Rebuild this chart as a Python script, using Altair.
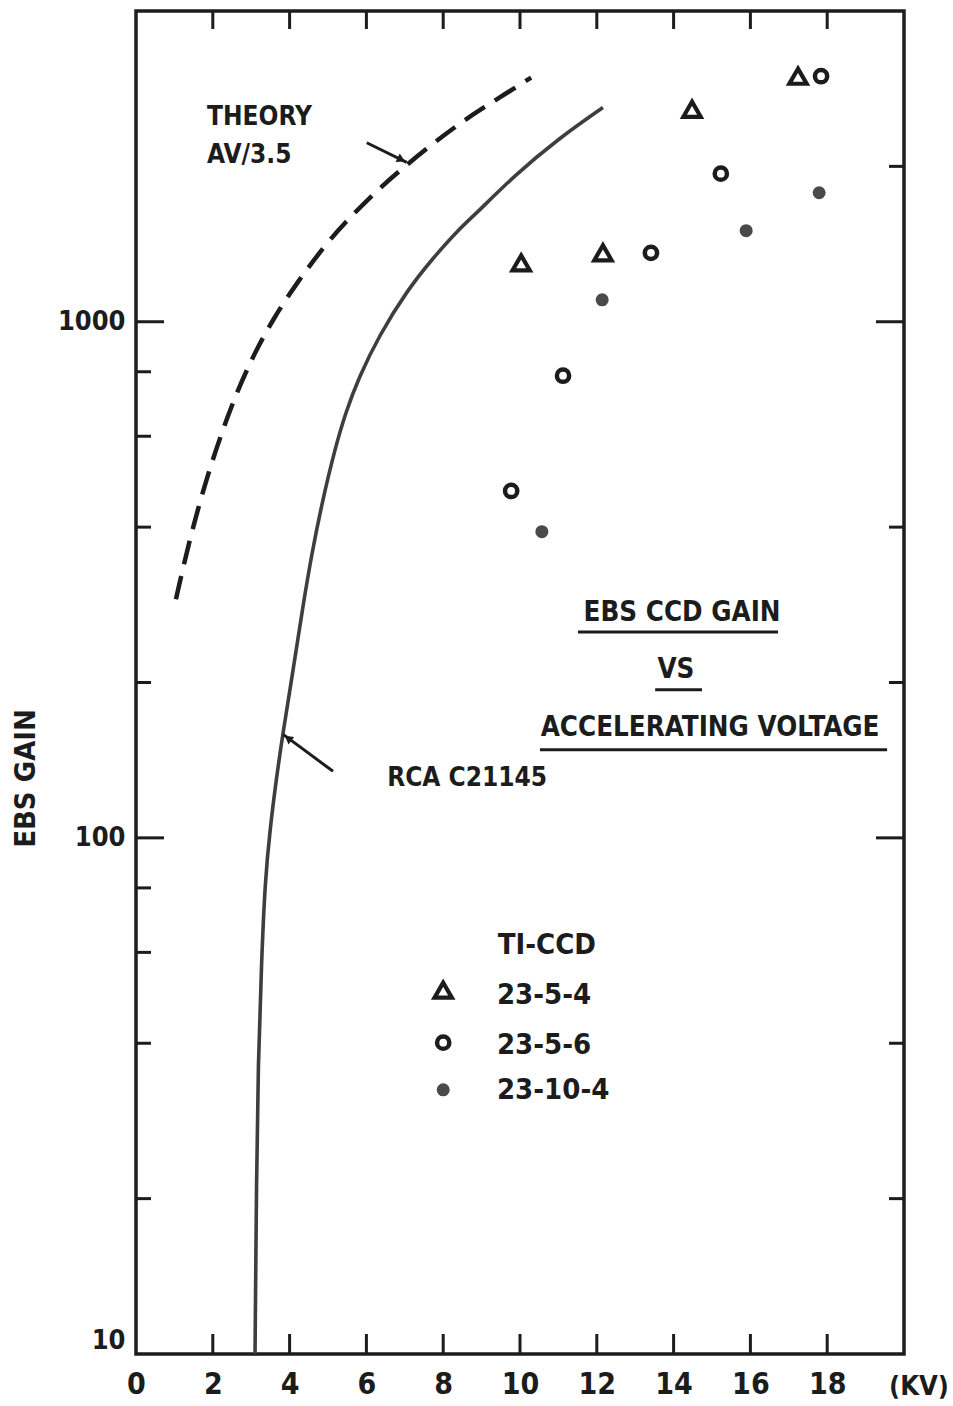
import altair as alt
import pandas as pd

FONT = "Liberation Sans Narrow, DejaVu Sans Condensed, Roboto, Liberation Sans, sans-serif"
INK = "#1c1c1c"
GRAY = "#3e3e3e"
W, H = 768, 1343

# ---- data ----
rca_kv = [3.10, 3.14, 3.18, 3.27, 3.36, 3.49, 3.66, 3.82, 4.09, 4.34, 4.57, 4.85,
          5.18, 5.46, 5.80, 6.33, 7.07, 7.74, 8.39, 8.88, 9.82, 11.04, 12.16]
rca_gain = [10, 22.6, 36.1, 57.8, 82.2, 104, 131, 158.5, 211, 279, 353, 448,
            567, 667, 779, 940, 1153, 1330, 1507, 1626, 1910, 2275, 2600]

theory_kv = [1.04, 1.41, 1.85, 2.25, 2.63, 3.09, 3.59, 4.19, 4.89, 5.45, 6.19,
             6.80, 7.69, 8.39, 8.89, 9.46, 10.29]
theory_gain = [290, 383, 501, 615, 732, 871, 1018, 1190, 1397, 1559, 1771,
               1944, 2203, 2410, 2553, 2717, 2972]

tri_kv = [10.03, 12.16, 14.48, 17.24]          # 23-5-4
tri_gain = [1300, 1360, 2580, 2990]
circ_kv = [9.77, 11.12, 13.41, 15.23, 17.84]   # 23-5-6
circ_gain = [470, 786, 1360, 1936, 2990]
dot_kv = [10.57, 12.14, 15.89, 17.79]          # 23-10-4
dot_gain = [392, 1103, 1501, 1778]

x_ticks = [0, 2, 4, 6, 8, 10, 12, 14, 16, 18]
y_labels = [10, 100, 1000]
left_major = [100, 1000]
left_minor = [20, 40, 60, 80, 200, 400, 600, 800]
right_major = [100, 1000]
right_minor = [20, 40, 200, 400, 2000]

xs = alt.Scale(domain=[0, 20], nice=False, zero=False)
ys = alt.Scale(type="log", domain=[10, 4000], nice=False)

xaxis = alt.Axis(values=x_ticks, title=None, ticks=False, domain=False, grid=False,
                 labelFont=FONT, labelFontSize=30, labelFontWeight="bold",
                 labelColor=INK, labelPadding=15, labelFlush=False)
yaxis = alt.Axis(values=y_labels, format="d", ticks=False, domain=False, grid=False,
                 labelFont=FONT, labelFontSize=27, labelFontWeight="bold",
                 labelColor=INK, labelPadding=11, labelFlush=True,
                 title="EBS GAIN", titleFont=FONT, titleFontSize=29,
                 titleFontWeight="bold", titleColor=INK, titleAngle=270,
                 titleX=-111, titleY=767, titleAlign="center", titleBaseline="middle")


def X(f="kv"):
    return alt.X(f"{f}:Q", scale=xs, axis=xaxis)


def Y(f="gain"):
    return alt.Y(f"{f}:Q", scale=ys, axis=yaxis)


rca = pd.DataFrame({"kv": rca_kv, "gain": rca_gain})
theory = pd.DataFrame({"kv": theory_kv, "gain": theory_gain})
tri = pd.DataFrame({"kv": tri_kv, "gain": tri_gain})
circ = pd.DataFrame({"kv": circ_kv, "gain": circ_gain})
dot = pd.DataFrame({"kv": dot_kv, "gain": dot_gain})

layers = []

layers.append(alt.Chart(rca).mark_line(color=GRAY, strokeWidth=3.6, interpolate="basis")
              .encode(x=X(), y=Y()))
layers.append(alt.Chart(theory).mark_line(color=INK, strokeWidth=4.5, strokeDash=[24, 12],
                                          interpolate="basis")
              .encode(x=X(), y=Y()))

tri_style = dict(shape="triangle-up", filled=False, stroke=INK, strokeWidth=4.2, size=300, opacity=1)
circ_style = dict(shape="circle", filled=False, stroke=INK, strokeWidth=4.5, size=150, opacity=1)
dot_style = dict(shape="circle", filled=True, fill="#4a4a4a", strokeWidth=0, size=170, opacity=1)

layers.append(alt.Chart(tri).mark_point(**tri_style).encode(x=X(), y=Y()))
layers.append(alt.Chart(circ).mark_point(**circ_style).encode(x=X(), y=Y()))
layers.append(alt.Chart(dot).mark_point(**dot_style).encode(x=X(), y=Y()))

# ---- inward frame ticks ----
frame_rule = dict(color=INK, strokeWidth=3)
for vals, ln in ((left_major, 28), (left_minor, 15)):
    layers.append(alt.Chart(pd.DataFrame({"gain": vals})).mark_rule(**frame_rule)
                  .encode(y=Y(), x=alt.value(0), x2=alt.value(ln)))
for vals, ln in ((right_major, 28), (right_minor, 15)):
    layers.append(alt.Chart(pd.DataFrame({"gain": vals})).mark_rule(**frame_rule)
                  .encode(y=Y(), x=alt.value(W), x2=alt.value(W - ln)))
tick_df = pd.DataFrame({"kv": x_ticks[1:]})
layers.append(alt.Chart(tick_df).mark_rule(**frame_rule)
              .encode(x=X(), y=alt.value(H), y2=alt.value(H - 20)))
layers.append(alt.Chart(tick_df).mark_rule(**frame_rule)
              .encode(x=X(), y=alt.value(0), y2=alt.value(18)))

# ---- annotations ----
txt = dict(font=FONT, fontWeight="bold", color=INK, baseline="middle")
left_txt = pd.DataFrame({
    "kv": [1.85, 1.85],
    "gain": [2496, 2107],
    "label": ["THEORY", "AV/3.5"],
})
layers.append(alt.Chart(left_txt).mark_text(align="left", fontSize=26, **txt)
              .encode(x=X(), y=Y(), text="label:N"))
rca_txt = pd.DataFrame({"kv": [6.54], "gain": [130.7], "label": ["RCA C21145"]})
layers.append(alt.Chart(rca_txt).mark_text(align="left", fontSize=26, **txt)
              .encode(x=X(), y=Y(), text="label:N"))

title_txt = pd.DataFrame({
    "kv": [14.22, 14.06, 14.95],
    "gain": [273, 211.7, 163.4],
    "label": ["EBS CCD GAIN", "VS", "ACCELERATING VOLTAGE"],
})
layers.append(alt.Chart(title_txt).mark_text(align="center", fontSize=27.5, **txt)
              .encode(x=X(), y=Y(), text="label:N"))

underline = pd.DataFrame({
    "kv": [11.51, 13.52, 10.52],
    "kv2": [16.72, 14.74, 19.56],
    "gain": [250.6, 193.7, 148.1],
})
layers.append(alt.Chart(underline).mark_rule(color=INK, strokeWidth=3)
              .encode(x=X(), x2="kv2:Q", y=Y()))

arrows = pd.DataFrame({
    "kv": [6.01, 5.13], "gain": [2222, 134.6],
    "kv2": [7.05, 3.84], "gain2": [2036, 158.5],
})
layers.append(alt.Chart(arrows).mark_rule(color=INK, strokeWidth=3)
              .encode(x=X(), y=Y(), x2="kv2:Q", y2="gain2:Q"))
heads = pd.DataFrame({"kv": [6.91, 3.96], "gain": [2061, 156], "ang": [116, 307]})
layers.append(alt.Chart(heads).mark_point(shape="triangle-up", filled=True, fill=INK,
                                          size=90, opacity=1)
              .encode(x=X(), y=Y(), angle=alt.Angle("ang:Q", scale=None)))

unit = pd.DataFrame({"kv": [20.39], "gain": [8.63], "label": ["(KV)"]})
layers.append(alt.Chart(unit).mark_text(align="center", fontSize=27, **txt)
              .encode(x=X(), y=Y(), text="label:N"))

# ---- legend (TI-CCD) ----
leg_title = pd.DataFrame({"kv": [10.70], "gain": [62.1], "label": ["TI-CCD"]})
layers.append(alt.Chart(leg_title).mark_text(align="center", fontSize=29, **txt)
              .encode(x=X(), y=Y(), text="label:N"))
leg_labels = pd.DataFrame({"kv": [9.40, 9.40, 9.40], "gain": [49.7, 39.7, 32.5],
                           "label": ["23-5-4", "23-5-6", "23-10-4"]})
layers.append(alt.Chart(leg_labels).mark_text(align="left", fontSize=29, **txt)
              .encode(x=X(), y=Y(), text="label:N"))
layers.append(alt.Chart(pd.DataFrame({"kv": [8.0], "gain": [50.7]}))
              .mark_point(**tri_style).encode(x=X(), y=Y()))
layers.append(alt.Chart(pd.DataFrame({"kv": [8.0], "gain": [40.1]}))
              .mark_point(**circ_style).encode(x=X(), y=Y()))
layers.append(alt.Chart(pd.DataFrame({"kv": [8.0], "gain": [32.5]}))
              .mark_point(**dot_style).encode(x=X(), y=Y()))

chart = (alt.layer(*layers)
         .properties(width=W, height=H,
                     autosize=alt.AutoSizeParams(type="none"),
                     padding={"left": 136, "top": 11, "right": 953 - 136 - W,
                              "bottom": 1406 - 11 - H})
         .configure(background="white",
                    view=alt.ViewConfig(stroke=INK, strokeWidth=3.5)))

chart.save("out.html", embed_options={"renderer": "svg", "actions": False})
